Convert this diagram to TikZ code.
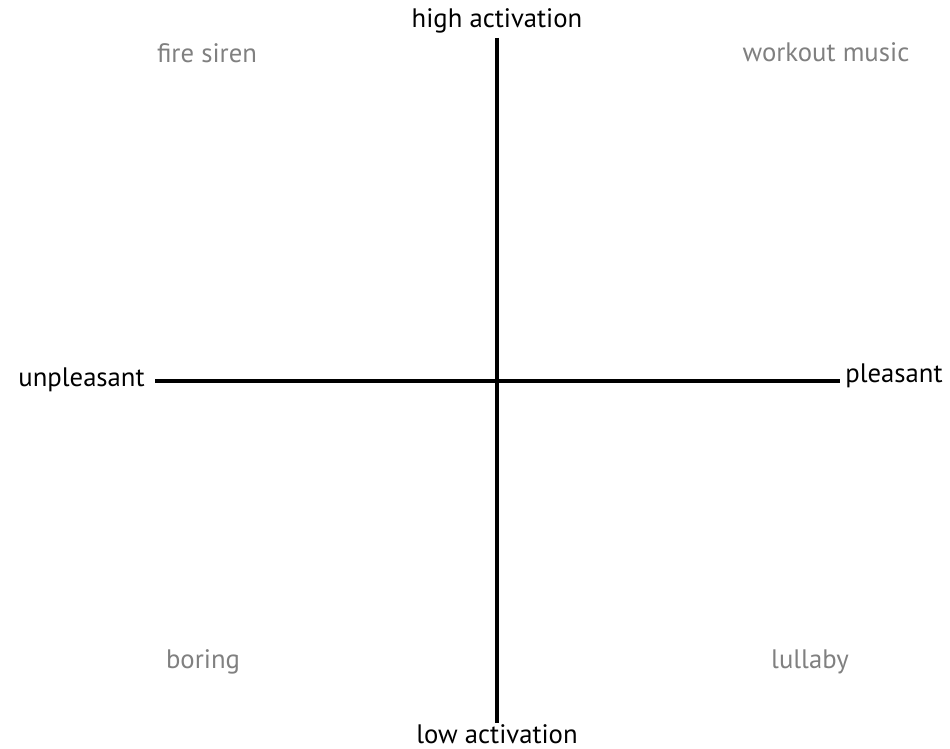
\documentclass[tikz,border=0pt]{standalone}
\usepackage{fontspec}
\setmainfont{PT Sans}
\usetikzlibrary{positioning}
\definecolor{quadgray}{RGB}{128,128,128}
\tikzset{
    axislabel/.style={anchor=base, font=\fontsize{15.2}{17}\selectfont, text=black, inner sep=0pt},
    quadlabel/.style={anchor=base, font=\fontsize{15.2}{17}\selectfont, text=quadgray, inner sep=0pt},
    axisline/.style={line width=2pt}
}
\begin{document}
\begin{tikzpicture}[x=0.02cm, y=-0.02cm]
    \useasboundingbox (0,0) rectangle (950,749);

    % axis ends
    \coordinate (top) at (497,38);
    \coordinate (bottom) at (497,723);
    \coordinate (left) at (155,381);
    \coordinate (right) at (840,381);

    % axis labels
    \node[axislabel] (high) at (497,28) {high activation};
    \node[axislabel] (low) at (497,743) {low activation};
    \node[axislabel, anchor=base east] (unpl) at (145,387) {unpleasant};
    \node[axislabel, anchor=base west] (pl) at (845,383) {pleasant};

    % quadrant examples
    \node[quadlabel] (siren) at (207,63) {fire siren};
    \node[quadlabel] (workout) at (826,62) {workout music};
    \node[quadlabel] (boring) at (203,668) {boring};
    \node[quadlabel] (lullaby) at (810,668) {lullaby};

    \draw[axisline] (top) -- (bottom);
    \draw[axisline] (left) -- (right);
\end{tikzpicture}
\end{document}
